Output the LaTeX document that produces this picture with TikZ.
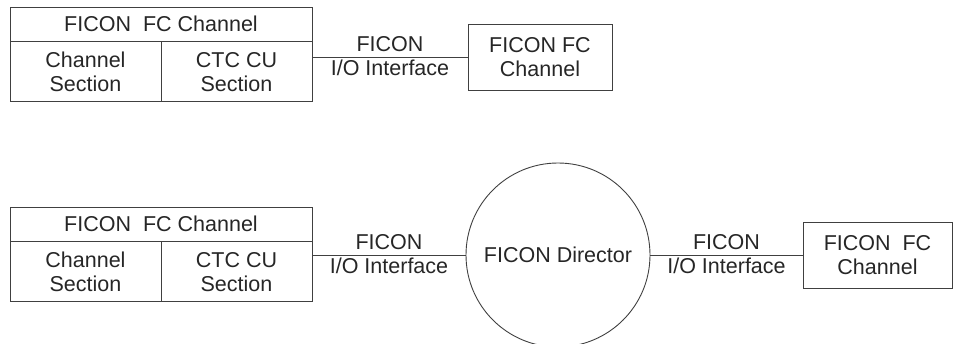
\documentclass[tikz,border=0pt]{standalone}
\usepackage{fontspec}
\setmainfont{Liberation Sans}
\usetikzlibrary{positioning}
\tikzset{
hdr/.style={rectangle,draw=black!75,line width=0.9pt,
minimum width=302pt,minimum height=34pt,inner sep=0pt},
sect/.style={rectangle,draw=black!75,line width=0.9pt,
minimum width=151pt,minimum height=60pt,inner sep=0pt,align=center},
chan/.style={rectangle,draw=black!75,line width=0.9pt,
minimum height=66pt,inner sep=0pt,align=center},
dir/.style={circle,draw=black!75,line width=0.9pt,minimum size=184pt,inner sep=0pt},
link/.style={draw=black!75,line width=0.9pt},
up/.style={above,inner sep=5pt},
down/.style={below,inner sep=2.5pt}
}

\begin{document}
\begin{tikzpicture}[x=1pt,y=-1pt,font=\fontsize{21.5}{24.5}\selectfont,text=black!85]
\useasboundingbox (0,0) rectangle (953,343);

% upper link
\node [hdr] (hdrA) at (161,24) {FICON\ \ FC Channel};
\node [sect,anchor=north west] (chA) at (hdrA.south west) {Channel\\Section};
\node [sect,anchor=north east] (ctcA) at (hdrA.south east) {CTC CU\\Section};
\node [chan,minimum width=144pt] (fcA) at (540,57) {FICON FC\\Channel};
\path [link] (fcA.west -| ctcA.east) -- (fcA.west)
node [midway,up] (ioA) {FICON}
node [midway,down] (ifA) {I/O Interface};

% lower link through director
\node [hdr] (hdrB) at (161,224) {FICON\ \ FC Channel};
\node [sect,anchor=north west] (chB) at (hdrB.south west) {Channel\\Section};
\node [sect,anchor=north east] (ctcB) at (hdrB.south east) {CTC CU\\Section};
\node [dir] (dirB) at (558,255) {FICON Director};
\node [chan,minimum width=149pt] (fcB) at (877.5,255) {FICON\ \ FC\\Channel};
\path [link] (dirB.west -| ctcB.east) -- (dirB.west)
node [midway,up] (ioB) {FICON}
node [midway,down] (ifB) {I/O Interface};
\path [link] (dirB.east) -- (fcB.west)
node [midway,up] (ioC) {FICON}
node [midway,down] (ifC) {I/O Interface};

\end{tikzpicture}
\end{document}
